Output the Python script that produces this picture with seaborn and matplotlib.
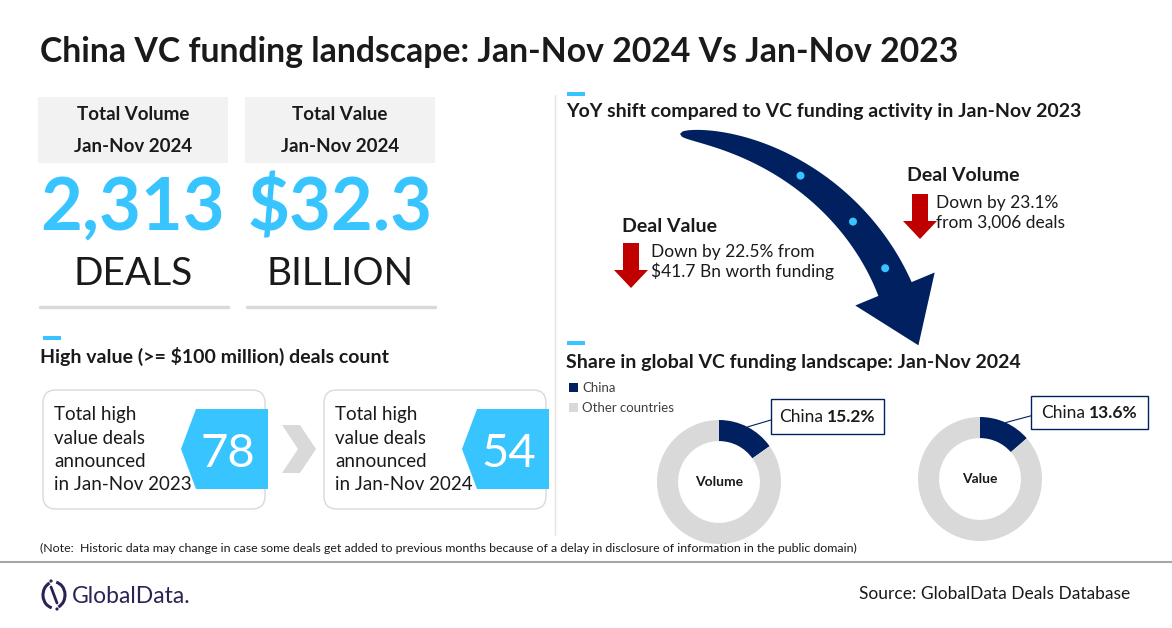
import numpy as np
import matplotlib
matplotlib.use("Agg")
import matplotlib.pyplot as plt
import seaborn as sns
from matplotlib.patches import Rectangle, FancyBboxPatch, Polygon, FancyArrow, Circle, Arc

# headline tiles
headline_titles = ["Total Volume", "Total Value"]
headline_period = "Jan-Nov 2024"
headline_values = ["2,313", "$32.3"]
headline_units = ["DEALS", "BILLION"]

# high value (>= $100 million) deals
high_value_counts = [78, 54]
high_value_periods = ["Jan-Nov 2023", "Jan-Nov 2024"]

# YoY shift vs Jan-Nov 2023
yoy_metrics = ["Deal Value", "Deal Volume"]
yoy_declines = [22.5, 23.1]
yoy_prior = ["$41.7 Bn worth funding", "3,006 deals"]

# share in global VC funding
share_labels = ["Volume", "Value"]
china_share = [15.2, 13.6]
legend_labels = ["China", "Other countries"]

NAVY = "#002060"
SKY = "#38C4FF"
LGREY = "#D9D9D9"
TILE = "#F2F2F2"
RED = "#C00000"
TXT = "#1A1A1A"

sns.set_theme(style="white")
plt.rcParams["font.family"] = ["Lato", "DejaVu Sans"]
plt.rcParams["text.parse_math"] = False
pie_colors = sns.color_palette([NAVY, LGREY])

W, H = 1172, 628
fig = plt.figure(figsize=(W / 100, H / 100), dpi=100)
ax = fig.add_axes([0, 0, 1, 1])
ax.set_xlim(0, W)
ax.set_ylim(H, 0)
ax.axis("off")

ax.text(40, 62, "China VC funding landscape: Jan-Nov 2024 Vs Jan-Nov 2023",
        fontsize=24.3, fontweight="bold", color=TXT, va="baseline")

# --- headline tiles
tile_x = [38, 245]
tile_w = 190
for i in range(2):
    x = tile_x[i]
    cx = x + tile_w / 2
    ax.add_patch(Rectangle((x, 97), tile_w, 66, color=TILE, lw=0))
    ax.text(cx, 120, headline_titles[i], ha="center", va="baseline",
            fontsize=13.5, fontweight="bold", color=TXT)
    ax.text(cx, 152, headline_period, ha="center", va="baseline",
            fontsize=13.5, fontweight="bold", color=TXT)
    ax.text(cx, 230, headline_values[i], ha="center", va="baseline",
            fontsize=52, fontweight="bold", color=SKY)
    ax.text(cx, 285, headline_units[i], ha="center", va="baseline",
            fontsize=28, color=TXT)
    ax.plot([x + 2, x + tile_w], [307, 307], color=LGREY, lw=2.5)

# dividers
ax.plot([555, 555], [95, 535], color="#E3E3E3", lw=1)
ax.plot([0, W], [562, 562], color="#A6A6A6", lw=1.5)

# --- high value deals
ax.add_patch(Rectangle((43, 336), 18, 4, color=SKY, lw=0))
ax.text(40, 363, "High value (>= $100 million) deals count", fontsize=14,
        fontweight="bold", color=TXT, va="baseline")

card_x = [43, 324]
card_w = 222
for i in range(2):
    x = card_x[i]
    ax.add_patch(FancyBboxPatch((x, 390), card_w, 119,
                                boxstyle="round,pad=0,rounding_size=13",
                                fc="white", ec=LGREY, lw=1))
    lines = ["Total high", "value deals", "announced", "in " + high_value_periods[i]]
    for j, ln in enumerate(lines):
        ax.text(x + 11, 420 + j * 23.5, ln, fontsize=13.5, color=TXT, va="baseline")
    right = x + card_w + 3
    tip = right - 87
    ax.add_patch(Polygon([(tip, 449), (tip + 15, 409), (right, 409),
                          (right, 489), (tip + 15, 489)], closed=True,
                         color=SKY, lw=0))
    ax.text(tip + 47, 467, str(high_value_counts[i]), ha="center",
            va="baseline", fontsize=34, color="white")

ax.add_patch(Polygon([(282, 425), (300, 425), (316, 449), (300, 473),
                      (282, 473), (298, 449)], closed=True, color=LGREY, lw=0))

# --- YoY shift
ax.add_patch(Rectangle((567, 92), 18, 4, color=SKY, lw=0))
ax.text(566, 117, "YoY shift compared to VC funding activity in Jan-Nov 2023",
        fontsize=14, fontweight="bold", color=TXT, va="baseline")

P = np.array([[680, 134], [770, 140], [858, 200], [895, 289]], dtype=float)
t = np.linspace(0, 1, 120)[:, None]
B = (1 - t) ** 3 * P[0] + 3 * (1 - t) ** 2 * t * P[1] + 3 * (1 - t) * t ** 2 * P[2] + t ** 3 * P[3]
dB = 3 * (1 - t) ** 2 * (P[1] - P[0]) + 6 * (1 - t) * t * (P[2] - P[1]) + 3 * t ** 2 * (P[3] - P[2])
tang = dB / np.linalg.norm(dB, axis=1)[:, None]
nrm = np.column_stack([-tang[:, 1], tang[:, 0]])
half = (36 * t[:, 0] ** 0.4 / 2)[:, None]
left = B + nrm * half
right_edge = B - nrm * half
end, tg, nm = B[-1], tang[-1], nrm[-1]
head = np.array([end + nm * 43, end + tg * 61, end - nm * 43])
ax.add_patch(Polygon(np.vstack([left, head, right_edge[::-1]]), closed=True,
                     color=NAVY, lw=0))
for tt in [0.47, 0.72, 0.92]:
    pt = (1 - tt) ** 3 * P[0] + 3 * (1 - tt) ** 2 * tt * P[1] + 3 * (1 - tt) * tt ** 2 * P[2] + tt ** 3 * P[3]
    ax.add_patch(Circle(pt, 4, color=SKY, lw=0))

# deal value (left) and deal volume (right)
yoy_pos = [(622, 232, 631, 243, 651), (907, 181, 920, 194, 936)]
yoy_text = [["Down by {}% from".format(yoy_declines[0]), yoy_prior[0]],
            ["Down by {}%".format(yoy_declines[1]), "from " + yoy_prior[1]]]
for i in range(2):
    hx, hy, ax_x, ay, tx = yoy_pos[i]
    ax.text(hx, hy, yoy_metrics[i], fontsize=14, fontweight="bold",
            color=TXT, va="baseline")
    ax.add_patch(FancyArrow(ax_x, ay, 0, 45, width=16, head_width=34,
                            head_length=18, length_includes_head=True,
                            color=RED, lw=0))
    ax.text(tx, ay + 14, yoy_text[i][0], fontsize=12.5, color=TXT, va="baseline")
    ax.text(tx, ay + 34, yoy_text[i][1], fontsize=12.5, color=TXT, va="baseline")

# --- share in global VC funding
ax.add_patch(Rectangle((567, 341), 18, 4, color=SKY, lw=0))
ax.text(566, 368, "Share in global VC funding landscape: Jan-Nov 2024",
        fontsize=14, fontweight="bold", color=TXT, va="baseline")
for j, lab in enumerate(legend_labels):
    ax.add_patch(Rectangle((569, 383 + j * 20), 9, 9, color=pie_colors[j], lw=0))
    ax.text(582, 392 + j * 20, lab, fontsize=9.5, color="#404040", va="baseline")

R = 62
donut_centers = [(719, 482), (980, 479)]
label_boxes = [(771, 399, 113, 35), (1031, 396, 117, 33)]
renderer = fig.canvas.get_renderer()
for i, (cx, cy) in enumerate(donut_centers):
    dax = fig.add_axes([(cx - R) / W, 1 - (cy + R) / H, 2 * R / W, 2 * R / H])
    dax.pie([china_share[i], 100 - china_share[i]], colors=pie_colors,
            startangle=90, counterclock=False, radius=1,
            wedgeprops=dict(width=0.34, linewidth=0))
    dax.set_xlim(-1, 1)
    dax.set_ylim(-1, 1)
    dax.axis("off")
    ax.text(cx, cy + 4, share_labels[i], ha="center", va="baseline",
            fontsize=10, fontweight="bold", color=TXT)

    bx, by, bw, bh = label_boxes[i]
    ax.add_patch(Rectangle((bx, by), bw, bh, fc="white", ec=NAVY, lw=1))
    mid = np.deg2rad(90 - 360 * china_share[i] / 100 / 2)
    ex, ey = cx + R * np.cos(mid), cy - R * np.sin(mid)
    ax.plot([bx, ex], [by + bh * 0.6, ey], color=NAVY, lw=0.8)
    t1 = ax.text(0, by + bh / 2 + 6, "China", fontsize=12.5, color=TXT, va="baseline")
    t2 = ax.text(0, by + bh / 2 + 6, "{}%".format(china_share[i]), fontsize=12.5,
                 fontweight="bold", color=TXT, va="baseline")
    w1 = t1.get_window_extent(renderer).width
    w2 = t2.get_window_extent(renderer).width
    x0 = bx + (bw - w1 - w2 - 4) / 2
    t1.set_x(x0)
    t2.set_x(x0 + w1 + 4)

# --- footer
ax.text(40, 552, "(Note:  Historic data may change in case some deals get added to previous "
        "months because of a delay in disclosure of information in the public domain)",
        fontsize=8.9, color=TXT, va="baseline")
ax.text(1130, 599, "Source: GlobalData Deals Database", fontsize=12.5,
        color=TXT, ha="right", va="baseline")

LOGO = "#2E2255"
ax.add_patch(Arc((54, 595), 22, 26, theta1=100, theta2=250, color=LOGO, lw=2.2))
ax.add_patch(Arc((54, 595), 22, 26, theta1=-80, theta2=70, color=LOGO, lw=2.2))
ax.plot([51, 57], [587, 603], color=LOGO, lw=2)
ax.add_patch(Circle((51, 581), 1.6, color=LOGO, lw=0))
ax.add_patch(Circle((57, 609), 1.6, color=LOGO, lw=0))
ax.text(72, 603, "GlobalData.", fontsize=16.5, color=LOGO, va="baseline")

fig.savefig("out.png", dpi=100, facecolor="white")
